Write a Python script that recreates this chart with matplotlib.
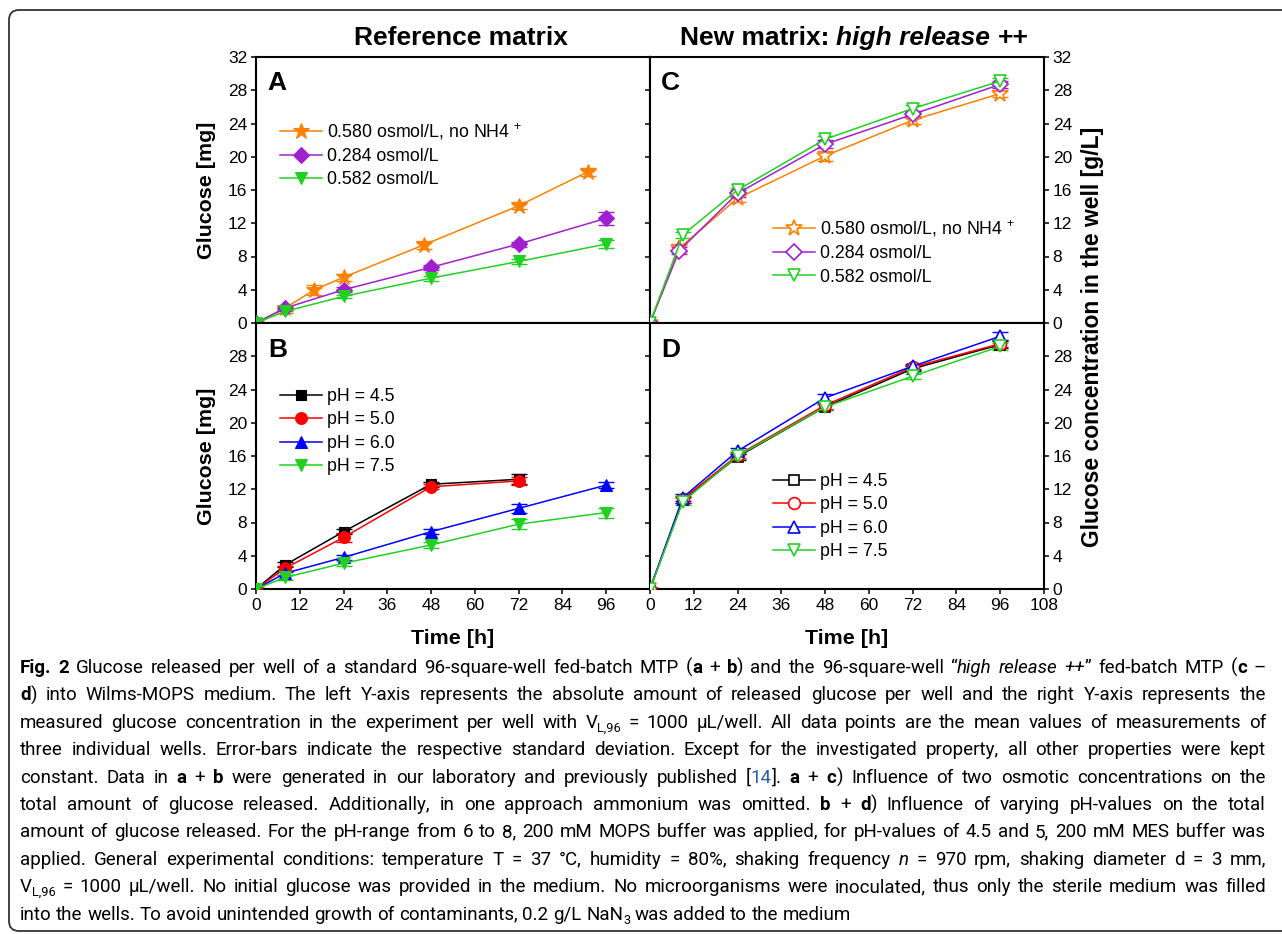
import matplotlib
matplotlib.use('Agg')
import matplotlib.pyplot as plt
from matplotlib import font_manager
from matplotlib.font_manager import FontProperties
from matplotlib.patches import FancyBboxPatch
from matplotlib.transforms import IdentityTransform

# ---------------- data ----------------
# panel A: reference matrix, osmolality
t_a_no_nh4 = [0, 8, 16, 24, 46, 72, 91]
a_no_nh4 = [0, 1.8, 4.0, 5.5, 9.4, 14.1, 18.2]
a_no_nh4_err = [0.1, 0.3, 0.6, 0.4, 0.5, 0.4, 0.5]
t_ref = [0, 8, 24, 48, 72, 96]
a_284 = [0, 1.8, 4.0, 6.7, 9.5, 12.6]
a_284_err = [0.1, 0.2, 0.3, 0.3, 0.3, 0.8]
a_582 = [0, 1.4, 3.2, 5.4, 7.4, 9.5]
a_582_err = [0.1, 0.2, 0.2, 0.3, 0.3, 0.5]

# panel B: reference matrix, pH
t_b_low = [0, 8, 24, 48, 72]
b_ph45 = [0, 2.9, 6.9, 12.6, 13.2]
b_ph45_err = [0.1, 0.3, 0.3, 0.3, 0.6]
b_ph50 = [0, 2.5, 6.2, 12.3, 13.0]
b_ph50_err = [0.1, 0.3, 0.5, 0.3, 0.5]
b_ph60 = [0, 1.9, 3.8, 6.9, 9.7, 12.5]
b_ph60_err = [0.1, 0.2, 0.3, 0.3, 0.5, 0.4]
b_ph75 = [0, 1.4, 3.1, 5.3, 7.8, 9.2]
b_ph75_err = [0.1, 0.3, 0.3, 0.4, 0.6, 0.6]

# panel C: high release ++, osmolality
t_c_a = [0, 8, 24, 48, 72, 96]
t_c_b = [0, 9, 24, 48, 72, 96]
c_no_nh4 = [0, 9.0, 15.0, 20.1, 24.4, 27.6]
c_no_nh4_err = [0.1, 0.5, 0.4, 0.6, 0.5, 0.4]
c_284 = [0, 8.7, 15.6, 21.5, 25.1, 28.7]
c_284_err = [0.1, 0.4, 0.4, 0.5, 0.4, 0.4]
c_582 = [0, 10.6, 16.0, 22.1, 25.8, 29.1]
c_582_err = [0.1, 0.4, 0.3, 0.4, 0.4, 0.4]

# panel D: high release ++, pH
t_d = [0, 9, 24, 48, 72, 96]
d_ph45 = [0, 10.7, 15.9, 21.9, 26.5, 29.4]
d_ph45_err = [0.1, 0.4, 0.4, 0.4, 0.3, 0.4]
d_ph50 = [0, 10.8, 16.1, 22.1, 26.7, 29.5]
d_ph50_err = [0.1, 0.4, 0.4, 0.4, 0.3, 0.4]
d_ph60 = [0, 11.0, 16.6, 23.0, 26.8, 30.4]
d_ph60_err = [0.1, 0.4, 0.4, 0.4, 0.3, 0.5]
d_ph75 = [0, 10.5, 16.0, 21.9, 25.6, 29.2]
d_ph75_err = [0.1, 0.4, 0.4, 0.4, 0.3, 0.4]

lab_no_nh4 = '0.580 osmol/L, no NH4 $^{+}$'
lab_284 = '0.284 osmol/L'
lab_582 = '0.582 osmol/L'
ph_labels = ['pH = 4.5', 'pH = 5.0', 'pH = 6.0', 'pH = 7.5']

ORANGE = '#FF8000'
PURPLE = '#A020D0'
GREEN = '#22D022'

# ---------------- fonts ----------------
def has_font(name):
    try:
        font_manager.findfont(FontProperties(family=name), fallback_to_default=False)
        return True
    except Exception:
        return False

PLOT_FONT = 'Liberation Sans' if has_font('Liberation Sans') else 'DejaVu Sans'
CAP_FONT = PLOT_FONT
for cand in ['Liberation Sans Narrow', 'Roboto', 'Lato']:
    if has_font(cand):
        CAP_FONT = cand
        break

plt.rcParams['font.family'] = [PLOT_FONT, 'DejaVu Sans']
plt.rcParams['mathtext.fontset'] = 'custom'
plt.rcParams['mathtext.rm'] = PLOT_FONT
plt.rcParams['mathtext.it'] = PLOT_FONT + ':italic'
plt.rcParams['mathtext.bf'] = PLOT_FONT + ':bold'

W, H = 1282, 934
fig = plt.figure(figsize=(W / 100, H / 100), dpi=100)
renderer = fig.canvas.get_renderer()


def fx(x):
    return x / W


def fy(y):
    return 1 - y / H


def px_axes(x0, y0, x1, y1):
    return fig.add_axes([fx(x0), fy(y1), (x1 - x0) / W, (y1 - y0) / H])


# outer rounded frame
frame = FancyBboxPatch((9, H - 931), 1300, 921, boxstyle='round,pad=0,rounding_size=10',
                       transform=IdentityTransform(), fill=False, ec='#333333', lw=1.3)
fig.add_artist(frame)

XL, XM, XR = 256, 650, 1044
YT, YM, YB = 57, 323, 589
ax_a = px_axes(XL, YT, XM, YM)
ax_b = px_axes(XL, YM, XM, YB)
ax_c = px_axes(XM, YT, XR, YM)
ax_d = px_axes(XM, YM, XR, YB)

for ax in (ax_a, ax_b, ax_c, ax_d):
    ax.set_xlim(0, 108)
    ax.set_ylim(0, 32)
    for sp in ax.spines.values():
        sp.set_linewidth(1.5)
    ax.tick_params(direction='out', length=3.8, width=1.1, labelsize=12.5, pad=2.5)

ax_a.set_xticks(range(0, 97, 12))
ax_b.set_xticks(range(0, 97, 12))
ax_c.set_xticks(range(0, 109, 12))
ax_d.set_xticks(range(0, 109, 12))
ax_a.set_yticks(range(0, 33, 4))
ax_b.set_yticks(range(0, 29, 4))
ax_c.set_yticks(range(0, 33, 4))
ax_d.set_yticks(range(0, 29, 4))
ax_a.tick_params(labelbottom=False)
ax_c.tick_params(labelbottom=False)
for ax in (ax_c, ax_d):
    ax.tick_params(left=True, right=True, labelleft=False, labelright=True)


def series(ax, t, y, err, color, marker, ms, label, open_=False):
    ax.errorbar(t, y, yerr=err, fmt='none', ecolor=color, elinewidth=1.0,
                capsize=5.5, capthick=1.0, zorder=2)
    ax.plot(t, y, color=color, lw=1.1, marker=marker, ms=ms,
            mfc='white' if open_ else color, mec=color, mew=1.2 if open_ else 0.8,
            label=label, zorder=3)


series(ax_a, t_a_no_nh4, a_no_nh4, a_no_nh4_err, ORANGE, '*', 12, lab_no_nh4)
series(ax_a, t_ref, a_284, a_284_err, PURPLE, 'D', 8, lab_284)
series(ax_a, t_ref, a_582, a_582_err, GREEN, 'v', 9, lab_582)

series(ax_b, t_b_low, b_ph45, b_ph45_err, 'black', 's', 7.5, ph_labels[0])
series(ax_b, t_b_low, b_ph50, b_ph50_err, 'red', 'o', 8.5, ph_labels[1])
series(ax_b, t_ref, b_ph60, b_ph60_err, 'blue', '^', 9, ph_labels[2])
series(ax_b, t_ref, b_ph75, b_ph75_err, GREEN, 'v', 9, ph_labels[3])

series(ax_c, t_c_a, c_no_nh4, c_no_nh4_err, ORANGE, '*', 12, lab_no_nh4, True)
series(ax_c, t_c_a, c_284, c_284_err, PURPLE, 'D', 8, lab_284, True)
series(ax_c, t_c_b, c_582, c_582_err, GREEN, 'v', 9, lab_582, True)

series(ax_d, t_d, d_ph45, d_ph45_err, 'black', 's', 7.5, ph_labels[0], True)
series(ax_d, t_d, d_ph50, d_ph50_err, 'red', 'o', 8.5, ph_labels[1], True)
series(ax_d, t_d, d_ph60, d_ph60_err, 'blue', '^', 9, ph_labels[2], True)
series(ax_d, t_d, d_ph75, d_ph75_err, GREEN, 'v', 9, ph_labels[3], True)


def legend_at(ax, x, y):
    ax.legend(loc='upper left', bbox_to_anchor=(fx(x), fy(y)), bbox_transform=fig.transFigure,
              frameon=False, fontsize=12.8, borderpad=0, borderaxespad=0,
              handlelength=2.35, handletextpad=0.3, labelspacing=0.36)


legend_at(ax_a, 280, 121)
legend_at(ax_b, 280, 388)
legend_at(ax_c, 773, 218)
legend_at(ax_d, 773, 473)

# panel letters
for ax, letter, x, yb in ((ax_a, 'A', 267, 90), (ax_b, 'B', 268, 357),
                          (ax_c, 'C', 661, 90), (ax_d, 'D', 661, 357)):
    fig.text(fx(x), fy(yb), letter, fontsize=19, fontweight='bold', va='baseline')

# axis labels
fig.text(fx(207), fy(190), 'Glucose [mg]', rotation=90, fontsize=15.4, fontweight='bold',
         ha='center', va='center')
fig.text(fx(207), fy(456), 'Glucose [mg]', rotation=90, fontsize=15.4, fontweight='bold',
         ha='center', va='center')
fig.text(fx(1093), fy(337), 'Glucose concentration in the well [g/L]', rotation=90,
         fontsize=16.5, fontweight='bold', ha='center', va='center')
fig.text(fx(453), fy(638), 'Time [h]', fontsize=15.4, fontweight='bold', ha='center', va='center')
fig.text(fx(847), fy(638), 'Time [h]', fontsize=15.4, fontweight='bold', ha='center', va='center')


# ---------------- text runs ----------------
def measure(s, fp):
    w, h, d = renderer.get_text_width_height_descent(s, fp, ismath=False)
    return w


def draw_runs(segs, x, y, fps, colors, offsets):
    for s, st in segs:
        fig.text(fx(x), fy(y + offsets.get(st, 0)), s, fontproperties=fps[st],
                 color=colors.get(st, 'black'), va='baseline')
        x += measure(s, fps[st])


title_fps = {'': FontProperties(family=PLOT_FONT, weight='bold', size=19),
             'i': FontProperties(family=PLOT_FONT, weight='bold', style='italic', size=19)}
fig.text(fx(461), fy(45), 'Reference matrix', fontproperties=title_fps[''], ha='center', va='baseline')
title_segs = [('New matrix: ', ''), ('high release', 'i'), (' ++', '')]
sp_t = measure('a a', title_fps['']) - measure('aa', title_fps[''])
tw = sum(measure(s.strip(), title_fps[st]) for s, st in title_segs) + 2 * sp_t
xx = 854 - tw / 2
for s, st in title_segs:
    core = s.strip()
    if s.startswith(' '):
        xx += sp_t
    fig.text(fx(xx), fy(45), core, fontproperties=title_fps[st], va='baseline')
    xx += measure(core, title_fps[st])
    if s.endswith(' '):
        xx += sp_t

# ---------------- caption ----------------
caption = [
    [('Fig. 2', 'b'), (' Glucose released per well of a standard 96-square-well fed-batch MTP (', ''),
     ('a', 'b'), (' + ', ''), ('b', 'b'), (') and the 96-square-well \u201c', ''),
     ('high release ++', 'i'), ('\u201d fed-batch MTP (', ''), ('c', 'b'), (' \u2013', '')],
    [('d', 'b'), (') into Wilms-MOPS medium. The left Y-axis represents the absolute amount of released '
                  'glucose per well and the right Y-axis represents the', '')],
    [('measured glucose concentration in the experiment per well with V', ''), ('L,96', 's'),
     (' = 1000 \u03bcL/well. All data points are the mean values of measurements of', '')],
    [('three individual wells. Error-bars indicate the respective standard deviation. Except for the '
      'investigated property, all other properties were kept', '')],
    [('constant. Data in ', ''), ('a', 'b'), (' + ', ''), ('b', 'b'),
     (' were generated in our laboratory and previously published [', ''), ('14', 'blue'), (']. ', ''),
     ('a', 'b'), (' + ', ''), ('c', 'b'), (') Influence of two osmotic concentrations on the', '')],
    [('total amount of glucose released. Additionally, in one approach ammonium was omitted. ', ''),
     ('b', 'b'), (' + ', ''), ('d', 'b'), (') Influence of varying pH-values on the total', '')],
    [('amount of glucose released. For the pH-range from 6 to 8, 200 mM MOPS buffer was applied, for '
      'pH-values of 4.5 and 5, 200 mM MES buffer was', '')],
    [('applied. General experimental conditions: temperature T = 37 \u00b0C, humidity = 80%, shaking '
      'frequency ', ''), ('n', 'i'), (' = 970 rpm, shaking diameter d = 3 mm,', '')],
    [('V', ''), ('L,96', 's'), (' = 1000 \u03bcL/well. No initial glucose was provided in the medium. No '
                               'microorganisms were inoculated, thus only the sterile medium was filled', '')],
    [('into the wells. To avoid unintended growth of contaminants, 0.2 g/L NaN', ''), ('3', 's'),
     (' was added to the medium', '')],
]


def cap_fonts(size):
    return {'': FontProperties(family=CAP_FONT, size=size),
            'blue': FontProperties(family=CAP_FONT, size=size),
            'b': FontProperties(family=CAP_FONT, size=size, weight='bold'),
            'i': FontProperties(family=CAP_FONT, size=size, style='italic'),
            's': FontProperties(family=CAP_FONT, size=size * 0.68)}


def tokenize(segs):
    tokens = [[]]
    for s, st in segs:
        parts = s.split(' ')
        for i, p in enumerate(parts):
            if i > 0:
                tokens.append([])
            if p:
                tokens[-1].append((p, st))
    return [t for t in tokens if t]


def token_width(tok, fps):
    return sum(measure(s, fps[st]) for s, st in tok)


CX0, CX1 = 20, 1266
size = 13.5
fps = cap_fonts(size)
space = measure('a a', fps['']) - measure('aa', fps[''])
widest = max(sum(token_width(t, fps) for t in tokenize(l)) + space * (len(tokenize(l)) - 1)
             for l in caption)
if widest > (CX1 - CX0) * 0.985:
    size = size * (CX1 - CX0) * 0.985 / widest
    fps = cap_fonts(size)
    space = measure('a a', fps['']) - measure('aa', fps[''])

cap_colors = {'blue': '#2a5db0'}
cap_offsets = {'s': 4}
y0, dy = 673, 27.4
for i, line in enumerate(caption):
    toks = tokenize(line)
    widths = [token_width(t, fps) for t in toks]
    if i < len(caption) - 1:
        gap = (CX1 - CX0 - sum(widths)) / (len(toks) - 1)
    else:
        gap = space
    x = CX0
    yb = y0 + i * dy
    for tok, w in zip(toks, widths):
        draw_runs(tok, x, yb, fps, cap_colors, cap_offsets)
        x += w + gap

fig.savefig('out.png', dpi=100)
